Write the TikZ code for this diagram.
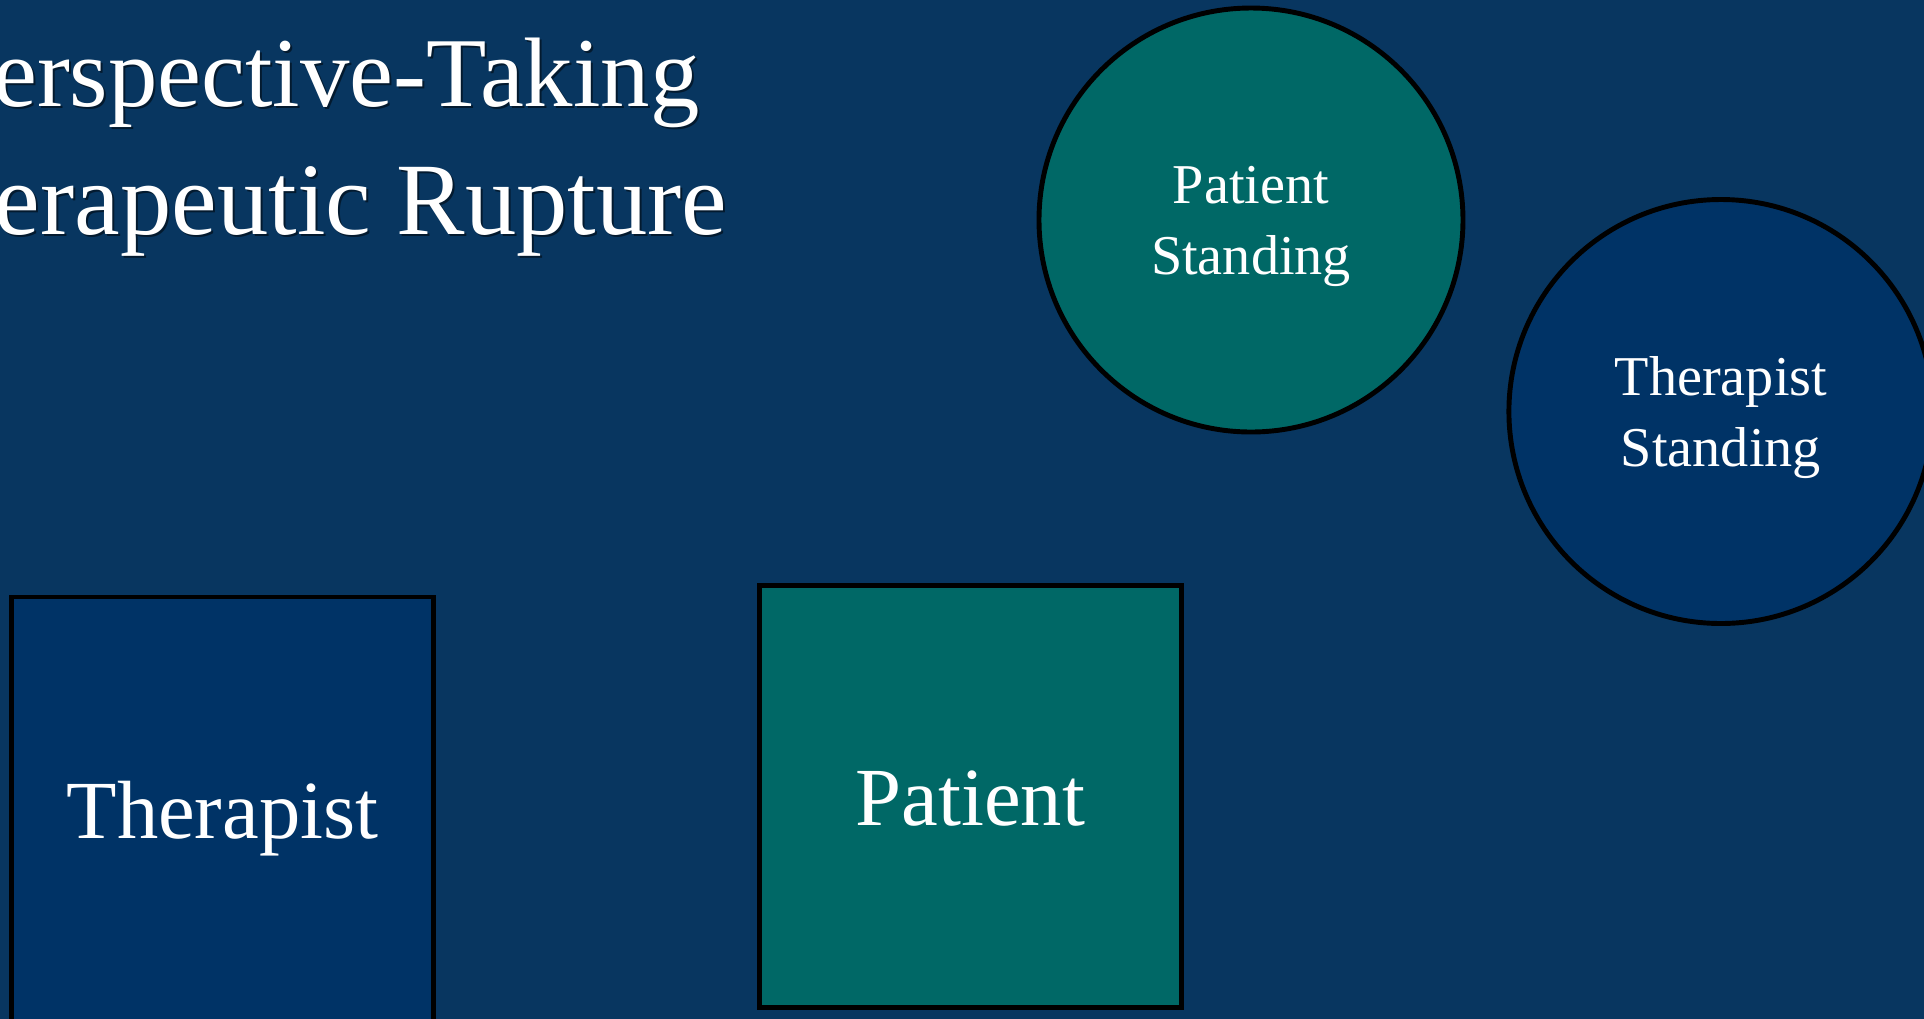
\documentclass[tikz,border=0pt]{standalone}
\usepackage{fontspec}
\setmainfont{Liberation Serif}
\usetikzlibrary{positioning}

\definecolor{slidebg}{HTML}{083660}
\definecolor{navyfill}{HTML}{003366}
\definecolor{tealfill}{HTML}{006866}

% zero-width strut so every label is centred on the same line box
\newcommand{\ls}{\rule[-0.21em]{0pt}{1.11em}}

\begin{document}
\begin{tikzpicture}[
    box/.style={rectangle, draw=black, line width=1.4pt, minimum size=4.22cm, text=white, font=\fontsize{23.5}{28}\selectfont},
    disc/.style={circle, draw=black, line width=1.4pt, minimum size=4.24cm, text=white, align=center, font=\fontsize{16}{20.2}\selectfont},
    heading/.style={anchor=base east, text=white, inner sep=0pt},
    shade/.style={heading, text=black, opacity=.5}]
    \useasboundingbox (0,0) rectangle (19.24,-10.18);
    \clip (-0.1,0.1) rectangle (19.34,-10.28);
    \fill[slidebg] (-0.1,0.1) rectangle (19.34,-10.28);

    \node[shade, font=\fontsize{28.1}{34}\selectfont] (titleashadow) at (7.02,-1.08) {Perspective-Taking};
    \node[shade, font=\fontsize{29.2}{34}\selectfont] (titlebshadow) at (7.30,-2.36) {Therapeutic Rupture};
    \node[heading, font=\fontsize{28.1}{34}\selectfont] (titlea) at (7.00,-1.06) {Perspective-Taking};
    \node[heading, font=\fontsize{29.2}{34}\selectfont] (titleb) at (7.28,-2.34) {Therapeutic Rupture};

    \node[box, fill=navyfill, minimum height=4.26cm] (therapist) at (2.225,-8.10) {\ls Therapist};
    \node[box, fill=tealfill, right=3.21cm of therapist, yshift=0.135cm] (patient) {\ls Patient};

    \node[disc, fill=tealfill] (pstand) at (12.51,-2.20) {\ls Patient\\ \ls Standing};
    \node[disc, fill=navyfill, right=0.41cm of pstand, yshift=-1.915cm] (tstand) {\ls Therapist\\ \ls Standing};
\end{tikzpicture}
\end{document}
